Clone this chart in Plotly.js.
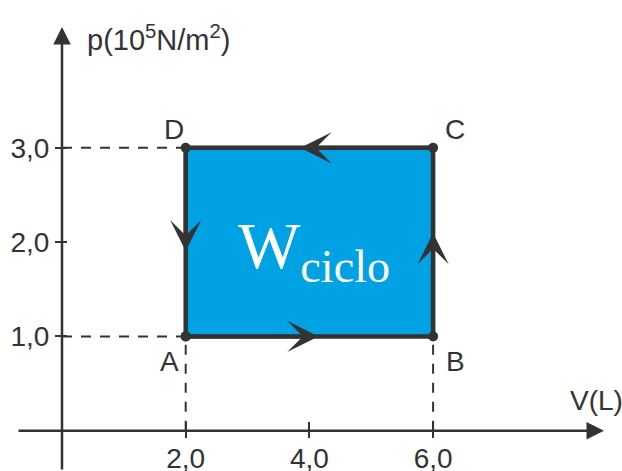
<!DOCTYPE html>
<html>
<head>
<meta charset="utf-8">
<script src="https://cdn.plot.ly/plotly-3.0.1.min.js"></script>
<style>
  html, body { margin: 0; padding: 0; background: #fff; }
  #chart { width: 622px; height: 471px; }
</style>
</head>
<body>
<div id="chart"></div>
<script>
// States of the cycle, visited in order A -> B -> C -> D -> A
const stateNames = ['A', 'B', 'C', 'D'];
const volumeL = [2, 6, 6, 2];      // V (L)
const pressure = [1, 1, 3, 3];     // p (10^5 N/m^2)

// Axis ticks
const xTickVals = [2, 4, 6];
const xTickText = ['2,0', '4,0', '6,0'];
const yTickVals = [1, 2, 3];
const yTickText = ['1,0', '2,0', '3,0'];

// ---- frame geometry -------------------------------------------------------
const W = 622, H = 471;
const x0px = 62, xUnit = 61.85;     // pixel of V = 0 and pixels per litre
const y0px = 430.7, yUnit = 94.3;   // pixel of p = 0 and pixels per unit
const xRange = [-x0px / xUnit, (W - x0px) / xUnit];
const yRange = [-(H - y0px) / yUnit, y0px / yUnit];
const px2x = px => (px - x0px) / xUnit;
const px2y = py => (y0px - py) / yUnit;

const INK = '#333333';
const BLUE = '#00A2E3';
const SANS = 'Liberation Sans, Arial, Helvetica, sans-serif';
const SERIF = 'Liberation Serif, Times New Roman, serif';
const TXT = 28;

// ---- traces ---------------------------------------------------------------
const traces = [];

// dashed guides from the axes to the states
const vMin = Math.min(...volumeL), pMin = Math.min(...pressure);
volumeL.forEach((v, i) => {
  if (v === vMin) {
    traces.push({ x: [0, v], y: [pressure[i], pressure[i]], mode: 'lines',
      line: { color: INK, width: 2, dash: '10px,9px' }, hoverinfo: 'skip' });
  }
  if (pressure[i] === pMin) {
    traces.push({ x: [v, v], y: [0, pressure[i]], mode: 'lines',
      line: { color: INK, width: 2, dash: '10px,9px' }, hoverinfo: 'skip' });
  }
});

// the cycle itself, filled (area = work of the cycle)
traces.push({
  x: volumeL.concat([volumeL[0]]),
  y: pressure.concat([pressure[0]]),
  mode: 'lines+markers',
  fill: 'toself',
  fillcolor: BLUE,
  line: { color: INK, width: 4.5 },
  marker: { color: INK, size: 10 },
  hoverinfo: 'skip'
});

// helper trace so the overlay axes (second half of each tick cross) exist
traces.push({ x: [], y: [], xaxis: 'x2', yaxis: 'y2', hoverinfo: 'skip', showlegend: false });

// ---- annotations ----------------------------------------------------------
const annotations = [];

// axis arrows
annotations.push({
  x: px2x(604), y: 0, ax: px2x(17), ay: 0, axref: 'x', ayref: 'y',
  xref: 'x', yref: 'y', text: '', showarrow: true,
  arrowhead: 2, arrowwidth: 2.5, arrowsize: 1.4, arrowcolor: INK, standoff: 0
});
annotations.push({
  x: 0, y: px2y(27), ax: 0, ay: px2y(471), axref: 'x', ayref: 'y',
  xref: 'x', yref: 'y', text: '', showarrow: true,
  arrowhead: 2, arrowwidth: 2.5, arrowsize: 1.4, arrowcolor: INK, standoff: 0
});

// axis titles
annotations.push({
  xref: 'paper', yref: 'paper', x: 85 / W, y: 1 - 38 / H,
  xanchor: 'left', yanchor: 'middle', showarrow: false,
  text: 'p(10<sup>5</sup>N/m<sup>2</sup>)',
  font: { family: SANS, size: TXT + 1, color: INK }
});
annotations.push({
  xref: 'paper', yref: 'paper', x: 568 / W, y: 1 - 400 / H,
  xanchor: 'left', yanchor: 'middle', showarrow: false,
  text: 'V(L)',
  font: { family: SANS, size: TXT, color: INK }
});

// state letters
const labelShift = { A: [-16, -25], B: [22, -25], C: [22, 18], D: [-12, 18] };
stateNames.forEach((s, i) => {
  annotations.push({
    x: volumeL[i], y: pressure[i], xref: 'x', yref: 'y',
    text: s, showarrow: false, xanchor: 'center', yanchor: 'middle',
    xshift: labelShift[s][0], yshift: labelShift[s][1],
    font: { family: SANS, size: TXT, color: INK }
  });
});

// direction arrows on each edge, just past the midpoint
const n = stateNames.length;
for (let i = 0; i < n; i++) {
  const j = (i + 1) % n;
  const xa = volumeL[i], ya = pressure[i], xb = volumeL[j], yb = pressure[j];
  const dxPx = (xb - xa) * xUnit, dyPx = (yb - ya) * yUnit;
  const len = Math.hypot(dxPx, dyPx);
  const ahead = 9; // px beyond the midpoint
  const tipX = (xa + xb) / 2 + (xb - xa) * ahead / len;
  const tipY = (ya + yb) / 2 + (yb - ya) * ahead / len;
  annotations.push({
    x: tipX, y: tipY, ax: xa, ay: ya, axref: 'x', ayref: 'y',
    xref: 'x', yref: 'y', text: '', showarrow: true,
    arrowhead: 3, arrowwidth: 4, arrowsize: 1.3, arrowcolor: INK, standoff: 0
  });
}

// work label inside the cycle
annotations.push({
  x: (vMin + Math.max(...volumeL)) / 2, y: (pMin + Math.max(...pressure)) / 2,
  xref: 'x', yref: 'y', xshift: 5, yshift: -8,
  text: 'W<sub>ciclo</sub>', showarrow: false,
  font: { family: SERIF, size: 66, color: '#ffffff' }
});

// ---- layout ---------------------------------------------------------------
const axisCommon = {
  showgrid: false, zeroline: false, showline: false, fixedrange: true,
  tickmode: 'array', tickwidth: 2, tickcolor: INK
};

const layout = {
  width: W, height: H,
  margin: { l: 0, r: 0, t: 0, b: 0 },
  paper_bgcolor: '#ffffff', plot_bgcolor: 'rgba(0,0,0,0)',
  showlegend: false,
  xaxis: Object.assign({}, axisCommon, {
    domain: [0, 1], range: xRange, anchor: 'free', position: (H - y0px) / H,
    tickvals: xTickVals, ticktext: xTickText, ticks: 'outside', ticklen: 6,
    ticklabelstandoff: -3,
    tickfont: { family: SANS, size: TXT, color: INK }
  }),
  yaxis: Object.assign({}, axisCommon, {
    domain: [0, 1], range: yRange, anchor: 'free', position: x0px / W,
    tickvals: yTickVals, ticktext: yTickText, ticks: 'outside', ticklen: 7,
    tickfont: { family: SANS, size: TXT, color: INK }
  }),
  xaxis2: Object.assign({}, axisCommon, {
    overlaying: 'x', range: xRange, anchor: 'free', position: (H - y0px) / H,
    tickvals: xTickVals, ticks: 'inside', ticklen: 9, showticklabels: false
  }),
  yaxis2: Object.assign({}, axisCommon, {
    overlaying: 'y', range: yRange, anchor: 'free', position: x0px / W,
    tickvals: yTickVals, ticks: 'inside', ticklen: 4, showticklabels: false
  }),
  annotations: annotations
};

Plotly.newPlot('chart', traces, layout, { displayModeBar: false, staticPlot: true });
</script>
</body>
</html>
